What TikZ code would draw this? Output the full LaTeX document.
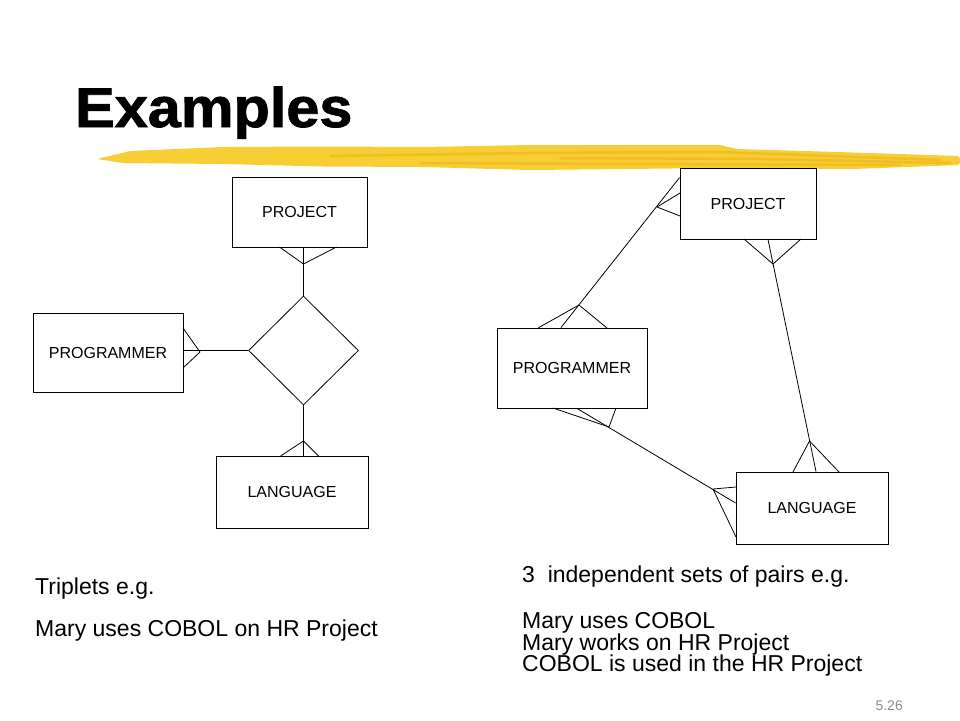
\documentclass[tikz,border=0pt]{standalone}
\usepackage{fontspec}
\setmainfont{Liberation Sans}
\newfontfamily\titlefont{Liberation Sans}[FakeBold=1.5,FakeStretch=1.06]
\usetikzlibrary{shapes.geometric}
\definecolor{brush}{RGB}{247,206,52}
\definecolor{brushdark}{RGB}{236,180,22}
\definecolor{pagenum}{RGB}{140,140,140}

\begin{document}
\begin{tikzpicture}[x=1pt,y=-1pt,
  entity/.style={draw,line width=0.9pt,inner sep=0pt,font=\fontsize{16}{18}\selectfont},
  link/.style={line width=0.8pt},
  streak/.style={brushdark,line width=2.5pt,opacity=0.6,line cap=round},
  txt/.style={anchor=base west,inner sep=0pt,font=\fontsize{23}{26}\selectfont}]
\useasboundingbox (0,0) rectangle (960,720);

% Title
\node[anchor=base west,inner sep=0pt,font=\titlefont\bfseries\fontsize{56}{60}\selectfont] (title) at (75,127) {Examples};

% Brush stroke
\fill[brush,rounded corners=3pt] (97,159) -- (130,151) -- (223,147) -- (323,146.5) -- (423,147) -- (530,145) -- (720,145) -- (737,149)
  -- (853,152.5) -- (960,156) -- (960,165) -- (853,169) -- (720,168) -- (530,170) -- (423,167) -- (323,166.5) -- (223,164) -- (123,163) -- cycle;
\draw[streak] (330,156) -- (530,153) -- (720,152) -- (940,160);
\draw[streak] (420,163) -- (620,164) -- (900,165);
\draw[streak] (560,158) -- (760,159) -- (950,163);

% Left diagram
\node[entity,minimum width=135,minimum height=70] (proj) at (299.5,212) {PROJECT};
\node[entity,minimum width=150,minimum height=79] (prog) at (108,352.5) {PROGRAMMER};
\node[entity,minimum width=152,minimum height=72] (lang) at (292,492) {LANGUAGE};
\node[diamond,draw,line width=0.8pt,inner sep=0pt,minimum width=110,minimum height=109] (rel) at (303.5,350.5) {};

\draw[link] (rel.north) -- (rel.north |- proj.south);
\draw[link] (rel.west) -- (rel.west -| prog.east);
\draw[link] (rel.south) -- (rel.south |- lang.north);

% Crow's feet
\coordinate (pf) at (303.5,264);
\coordinate (gf) at (200,352);
\coordinate (lf) at (303.5,441);
\draw[link] (pf) -- ++(-24,-17) (pf) -- ++(33,-17);
\draw[link] (gf) -- ++(-17,-24) (gf) -- ++(-17,16);
\draw[link] (lf) -- ++(-23,15) (lf) -- ++(15,15);

% Right diagram
\node[entity,minimum width=136,minimum height=71] (rproj) at (748,203.5) {PROJECT};
\node[entity,minimum width=150,minimum height=80] (rprog) at (572,368) {PROGRAMMER};
\node[entity,minimum width=152,minimum height=72] (rlang) at (812,508) {LANGUAGE};

\draw[link] ([xshift=-11pt]rprog.north) -- ([yshift=-10pt]rproj.north west);
\draw[link] ([xshift=20pt]rproj.south) -- ([xshift=4pt]rlang.north);
\draw[link] ([xshift=5pt]rprog.south) -- ([yshift=5pt]rlang.west);

% Crow's feet
\coordinate (c1) at (657,207);
\coordinate (c2) at (579,305);
\coordinate (c3) at (773,264);
\coordinate (c4) at (809.5,441);
\coordinate (c5) at (609,427);
\coordinate (c6) at (713,489);
\draw[link] (c1) -- ++(23,-14) (c1) -- ++(23,9);
\draw[link] (c2) -- ++(-41,23) (c2) -- ++(28,23);
\draw[link] (c3) -- ++(-29,-25) (c3) -- ++(28,-25);
\draw[link] (c4) -- ++(-16.5,31) (c4) -- ++(29.5,31);
\draw[link] (c5) -- ++(-56,-19) (c5) -- ++(7,-19);
\draw[link] (c6) -- ++(23,-2) (c6) -- ++(23,48);

% Text
\node[txt] (trip) at (35,594) {Triplets e.g.};
\node[txt] (trip1) at (35,636) {Mary uses COBOL on HR Project};
\node[txt] (pairs) at (522,582) {3\ \ independent sets of pairs e.g.};
\node[txt] (pair1) at (522,628) {Mary uses COBOL};
\node[txt] (pair2) at (522,650) {Mary works on HR Project};
\node[txt] (pair3) at (522,671) {COBOL is used in the HR Project};
\node[anchor=base east,inner sep=0pt,text=pagenum,font=\fontsize{14}{16}\selectfont] (pnum) at (903,710) {5.26};
\end{tikzpicture}
\end{document}
